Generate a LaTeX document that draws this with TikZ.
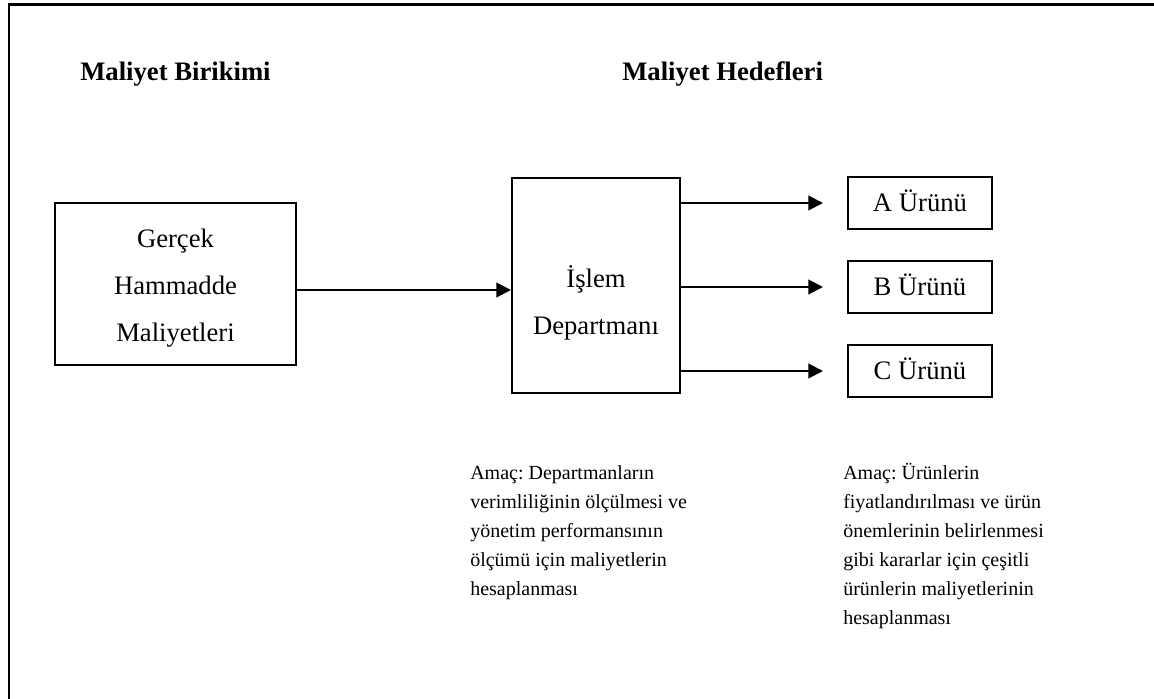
\documentclass[tikz,border=0pt]{standalone}
\usepackage{fontspec}
\setmainfont{Liberation Serif}
\usetikzlibrary{arrows.meta,fit}
\frenchspacing
\begin{document}
\begin{tikzpicture}[x=0.75pt,y=-0.75pt,
  frame/.style={line width=2.2pt},
  box/.style={draw,line width=1.5pt,inner sep=0pt},
  boxtext/.style={anchor=base,inner sep=0pt,font=\fontsize{20}{24}\selectfont},
  heading/.style={anchor=base west,inner sep=0pt,font=\fontsize{20}{24}\selectfont\bfseries},
  para/.style={anchor=base west,inner sep=0pt,font=\fontsize{15}{18}\selectfont},
  arr/.style={line width=1.5pt,-{Triangle[length=11pt,width=11pt]}}]
\useasboundingbox (0,0) rectangle (1154,699);

% outer frame: only the top and left edges fall inside the page
\draw[frame] (9,705) -- (9,4.5) -- (1160,4.5);

% column headings
\node[heading] (hsrc) at (80,81) {Maliyet Birikimi};
\node[heading] (hobj) at (622,81) {Maliyet Hedefleri};

% cost pool
\node[box,fit={(55,203)(296,365)}] (src) {};
\node[boxtext] (src1) at (175.5,247) {Gerçek};
\node[boxtext] (src2) at (175.5,294) {Hammadde};
\node[boxtext] (src3) at (175.5,341) {Maliyetleri};

% department
\node[box,fit={(512,178)(680,393)}] (dept) {};
\node[boxtext] (dept1) at (596,287) {İşlem};
\node[boxtext] (dept2) at (596,334) {Departmanı};

% products
\node[box,fit={(848,177)(992,229)}] (pa) {};
\node[box,fit={(848,261)(992,313)}] (pb) {};
\node[box,fit={(848,345)(992,397)}] (pc) {};
\node[boxtext] (pat) at (pa.center) [yshift=-6.5pt] {A Ürünü};
\node[boxtext] (pbt) at (pb.center) [yshift=-6.5pt] {B Ürünü};
\node[boxtext] (pct) at (pc.center) [yshift=-6.5pt] {C Ürünü};

% flows
\coordinate (flow) at (0,290);
\draw[arr] (src.east |- flow) -- (dept.west |- flow);
\foreach \p in {pa,pb,pc}
  \draw[arr,shorten >=18pt] (dept.east |- \p.west) -- (\p.west);

% purposes
\foreach \t [count=\i from 0] in {Amaç: Departmanların,verimliliğinin ölçülmesi ve,yönetim performansının,ölçümü için maliyetlerin,hesaplanması}
  \node[para] (pl\i) at (470,479+29*\i) {\t};
\foreach \t [count=\i from 0] in {Amaç: Ürünlerin,fiyatlandırılması ve ürün,önemlerinin belirlenmesi,gibi kararlar için çeşitli,ürünlerin maliyetlerinin,hesaplanması}
  \node[para] (pr\i) at (843,479+29*\i) {\t};
\end{tikzpicture}
\end{document}
